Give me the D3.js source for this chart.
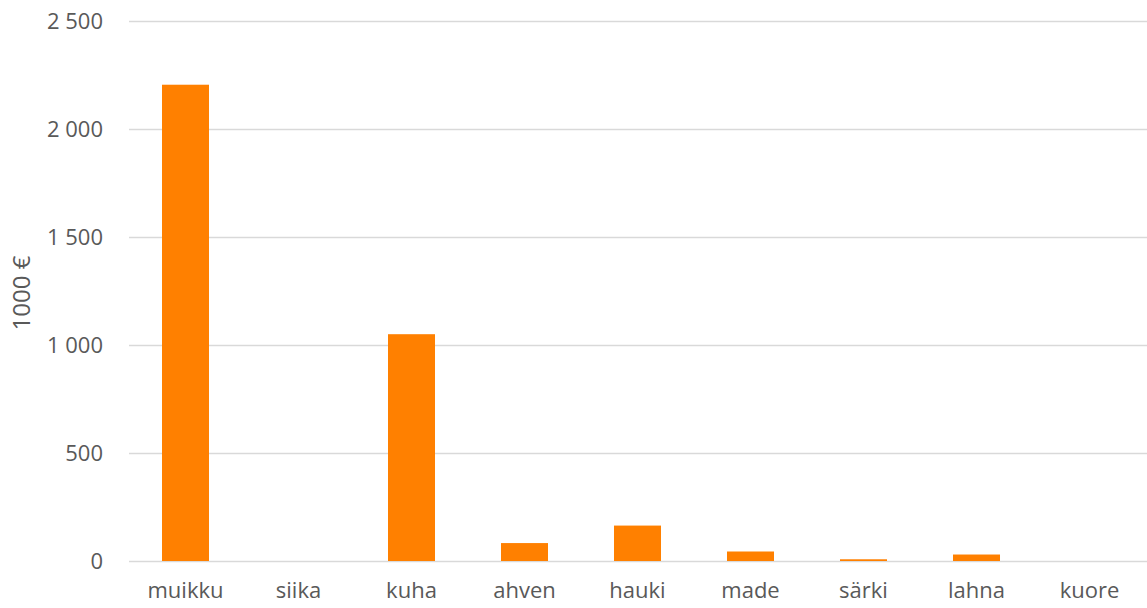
<!DOCTYPE html>
<html><head><meta charset="utf-8">
<script src="https://cdn.jsdelivr.net/npm/d3@7"></script>
<style>body{margin:0;background:#fff}svg{display:block}text{font-family:"Open Sans","Noto Sans",sans-serif;fill:#595959}</style>
</head><body>
<svg id="c" width="1147" height="608"></svg>
<script>
const categories = ["muikku","siika","kuha","ahven","hauki","made","särki","lahna","kuore"];
const values = [2205, 0, 1050, 83, 164, 44, 8, 30, 0];
const yTicks = [0, 500, 1000, 1500, 2000, 2500];
const yTitle = "1000 €";

const svg = d3.select("#c");
const x = d3.scaleBand().domain(categories).range([129, 1146]).paddingInner(0.584).paddingOuter(0.292);
const y = d3.scaleLinear().domain([0, 2500]).range([561, 21]);
const fmt = v => d3.format(",")(v).replace(/,/g, " ");

svg.append("g").selectAll("line").data(yTicks).join("line")
  .attr("x1", 129).attr("x2", 1147)
  .attr("y1", d => Math.round(y(d)) + 0.5).attr("y2", d => Math.round(y(d)) + 0.5)
  .attr("stroke", "#d9d9d9").attr("stroke-width", 1.3);

svg.append("g").selectAll("text").data(yTicks).join("text")
  .attr("x", 103).attr("y", d => y(d)).attr("dy", "0.35em")
  .attr("text-anchor", "end").attr("font-size", 22).text(fmt);

svg.append("g").selectAll("rect").data(categories).join("rect")
  .attr("x", d => x(d)).attr("width", x.bandwidth())
  .attr("y", (d, i) => y(values[i])).attr("height", (d, i) => y(0) - y(values[i]))
  .attr("fill", "#ff8000");

svg.append("g").selectAll("text").data(categories).join("text")
  .attr("x", d => x(d) + x.bandwidth() / 2).attr("y", 598)
  .attr("text-anchor", "middle").attr("font-size", 22).text(d => d);

svg.append("text").attr("transform", "translate(30,293) rotate(-90)")
  .attr("text-anchor", "middle").attr("font-size", 24).text(yTitle);
</script>
</body></html>
